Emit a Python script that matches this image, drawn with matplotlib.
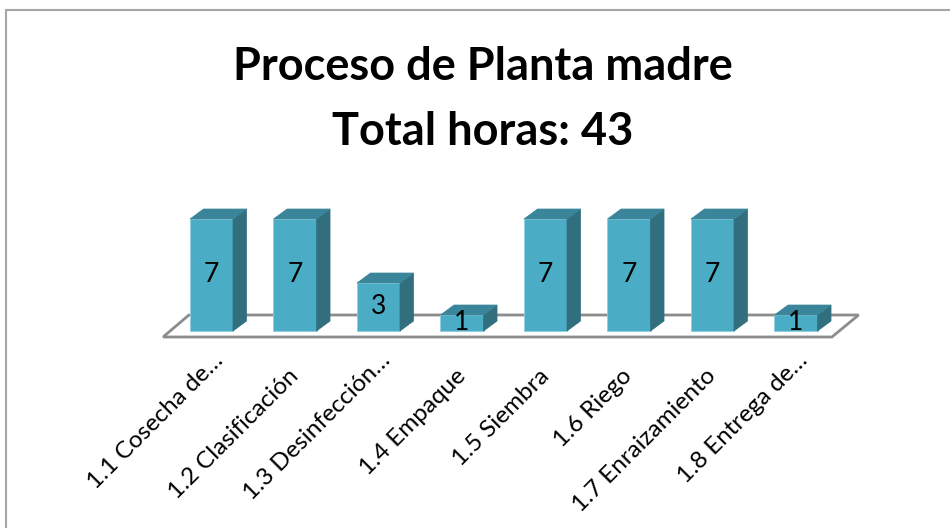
import numpy as np
import matplotlib
matplotlib.use("Agg")
import matplotlib.pyplot as plt
from matplotlib.patches import Polygon, Rectangle

plt.rcParams['font.family'] = ['Lato', 'DejaVu Sans']

categorias = ["1.1 Cosecha de…", "1.2 Clasificación", "1.3 Desinfección…", "1.4 Empaque",
              "1.5 Siembra", "1.6 Riego", "1.7 Enraizamiento", "1.8 Entrega de…"]
horas = [7, 7, 3, 1, 7, 7, 7, 1]
titulo = ["Proceso de Planta madre", "Total horas: 43"]

c_frente = "#4bacc6"
c_lado = "#316f7f"
c_techo = "#3a8599"
c_piso = "#8c8c8c"

W, H = 950, 528
fig = plt.figure(figsize=(W / 100, H / 100), dpi=100)

# borde del area del grafico (cortado a la derecha y abajo)
fig.patches.append(Rectangle((5.5 / W, -0.1), 2, 1 - 9.5 / H + 0.1, transform=fig.transFigure,
                             fill=False, edgecolor="#a6a6a6", lw=1.5))

for linea, base in zip(titulo, [80, 145]):
    fig.text(0.508, 1 - base / H, linea, ha="center", va="baseline", fontsize=32.5,
             fontweight="bold")

ax = fig.add_axes([86.25 / W, (H - 355) / H, 835 / W, 168 / H])
ax.set_xlim(-1.5, 8.5)
ax.set_ylim(-1.5, 9)
ax.axis("off")

x = np.arange(len(horas))
ancho = 0.515
dx, dy = 0.162, 0.625  # profundidad de las barras

# piso
piso = Polygon([(-0.58, -0.375), (7.43, -0.375), (7.75, 1.0), (-0.27, 1.0)], closed=True,
               facecolor="white", edgecolor=c_piso, lw=2, zorder=1)
ax.add_patch(piso)

ax.bar(x, horas, width=ancho, color=c_frente, edgecolor="#8fd0e0", lw=0.6, zorder=3)
for xi, v in zip(x, horas):
    x0, x1 = xi - ancho / 2, xi + ancho / 2
    ax.add_patch(Polygon([(x1, 0), (x1 + dx, dy), (x1 + dx, v + dy), (x1, v)],
                         closed=True, facecolor=c_lado, edgecolor=c_lado, lw=0.5, zorder=3))
    ax.add_patch(Polygon([(x0, v), (x1, v), (x1 + dx, v + dy), (x0 + dx, v + dy)],
                         closed=True, facecolor=c_techo, edgecolor=c_techo, lw=0.5, zorder=3))
    ax.text(xi, v / 2, str(v), ha="center", va="center", fontsize=19, color="black", zorder=4)

for xi, lab in zip(x, categorias):
    cortado = lab.endswith("…")
    ax.text(xi + (0.1 if cortado else 0.0), -2.6 + (1.0 if cortado else 0.0), lab,
            rotation=45, rotation_mode="anchor", ha="right", va="center", fontsize=17.5,
            clip_on=False)

fig.savefig("out.png", dpi=100)
